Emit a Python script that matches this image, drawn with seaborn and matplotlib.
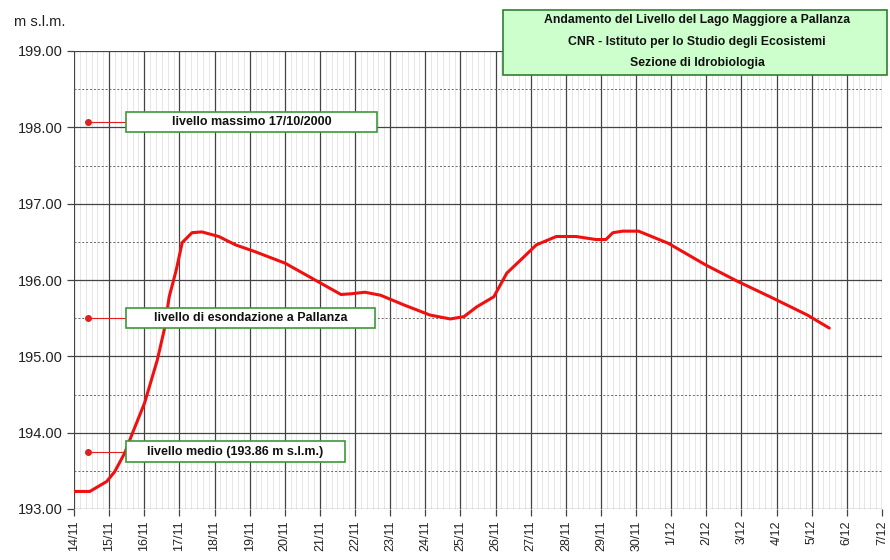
import numpy as np
import pandas as pd
import seaborn as sns
import matplotlib.pyplot as plt
from matplotlib.patches import Rectangle
from matplotlib.ticker import MultipleLocator

# giorni dal 14/11 e livello del lago (m s.l.m.)
giorni = [0.0, 0.45, 0.93, 1.16, 1.44, 1.67, 2.01, 2.37, 2.57, 2.71, 2.91, 3.08,
          3.36, 3.64, 4.12, 4.60, 5.16, 6.01, 6.94, 7.6, 7.9, 8.28, 8.73, 9.41,
          10.14, 10.71, 11.10, 11.47, 11.95, 12.32, 12.80, 13.16, 13.73, 14.29,
          14.86, 15.14, 15.34, 15.62, 16.07, 16.92, 17.97, 18.90, 19.86, 20.88, 21.50]
livello = [193.23, 193.23, 193.36, 193.49, 193.73, 194.00, 194.39, 194.95, 195.35,
           195.78, 196.13, 196.49, 196.62, 196.63, 196.57, 196.46, 196.37, 196.22,
           195.98, 195.81, 195.82, 195.84, 195.80, 195.67, 195.54, 195.49, 195.52,
           195.65, 195.78, 196.09, 196.30, 196.46, 196.57, 196.57, 196.53, 196.53,
           196.62, 196.64, 196.64, 196.48, 196.20, 195.98, 195.77, 195.54, 195.37]

date_labels = ['14/11', '15/11', '16/11', '17/11', '18/11', '19/11', '20/11', '21/11',
               '22/11', '23/11', '24/11', '25/11', '26/11', '27/11', '28/11', '29/11',
               '30/11', '1/12', '2/12', '3/12', '4/12', '5/12', '6/12', '7/12']

riferimenti = ['livello massimo 17/10/2000',
               'livello di esondazione a Pallanza',
               'livello medio (193.86 m s.l.m.)']
rif_valori = [198.07, 195.50, 193.75]

titolo = ['Andamento del Livello del Lago Maggiore a Pallanza',
          'CNR - Istituto per lo Studio degli Ecosistemi',
          'Sezione di Idrobiologia']

df = pd.DataFrame({'giorno': giorni, 'livello': livello})

sns.set_style('white')
plt.rcParams['font.family'] = ['Liberation Sans', 'DejaVu Sans']

fig = plt.figure(figsize=(8.9, 5.6), dpi=100)
ax_right = 882
px_day = (ax_right - 74) / 23
ax = fig.add_axes([74 / 890, 51 / 560, (ax_right - 74) / 890, 458 / 560])

# griglia
ax.set_xlim(0, 23)
ax.set_ylim(193, 199)
ax.xaxis.set_major_locator(MultipleLocator(1))
ax.xaxis.set_minor_locator(MultipleLocator(1 / 6))
ax.yaxis.set_major_locator(MultipleLocator(1))
ax.yaxis.set_minor_locator(MultipleLocator(0.5))
ax.xaxis.grid(True, which='major', color='#444444', lw=0.9)
ax.xaxis.grid(True, which='minor', color='#e2e2e2', lw=0.6)
ax.yaxis.grid(True, which='major', color='#444444', lw=0.9)
ax.yaxis.grid(True, which='minor', color='#666666', lw=0.7, ls=(0, (2, 2)))
ax.set_axisbelow(True)
for s in ax.spines.values():
    s.set_visible(False)

ax.set_xticks(range(len(date_labels)))
ax.set_xticklabels(date_labels, rotation=90, fontsize=9, color='#222222')
ax.set_yticks(np.arange(193, 200, 1))
ax.set_yticklabels([f'{v:.2f}' for v in np.arange(193, 200, 1)], fontsize=10.5,
                   color='#222222')
ax.tick_params(axis='both', which='major', direction='out', length=5, width=0.9,
               color='#444444', pad=3, bottom=True, left=True)
ax.tick_params(axis='both', which='minor', length=0)

sns.lineplot(data=df, x='giorno', y='livello', color='#f01010', lw=2.2, ax=ax)
ax.set_xlabel('')
ax.set_ylabel('')

# livelli di riferimento
box_x0 = (126 - 74) / px_day
box_w = [(377 - 126) / px_day, (375 - 126) / px_day, (345 - 126) / px_day]
box_h = 0.27
for txt, val, w in zip(riferimenti, rif_valori, box_w):
    ax.plot([0.4, box_x0], [val, val], color='#e02020', lw=0.8, zorder=4)
    ax.plot(0.4, val, 'o', color='#e02020', ms=4, zorder=5)
    ax.add_patch(Rectangle((box_x0, val - box_h / 2), w, box_h, facecolor='white',
                           edgecolor='#3a9a3a', lw=1.2, zorder=6))
    ax.text(box_x0 + w / 2, val, txt, ha='center', va='center', fontsize=9,
            fontweight='bold', color='#111111', zorder=7)

# riquadro del titolo
fig.patches.append(Rectangle((503 / 890, 1 - 75 / 560), 384 / 890, 65 / 560,
                             transform=fig.transFigure, facecolor='#ccffcc',
                             edgecolor='#2f7f2f', lw=1.2, zorder=10))
for i, t in enumerate(titolo):
    fig.text(697 / 890, 1 - (20 + 21.5 * i) / 560, t, ha='center', va='center',
             fontsize=8.8, fontweight='bold', color='#111111', zorder=11)

fig.text(14 / 890, 1 - 22 / 560, 'm s.l.m.', ha='left', va='center', fontsize=10.5,
         color='#222222')

fig.savefig('out.png', dpi=100)
